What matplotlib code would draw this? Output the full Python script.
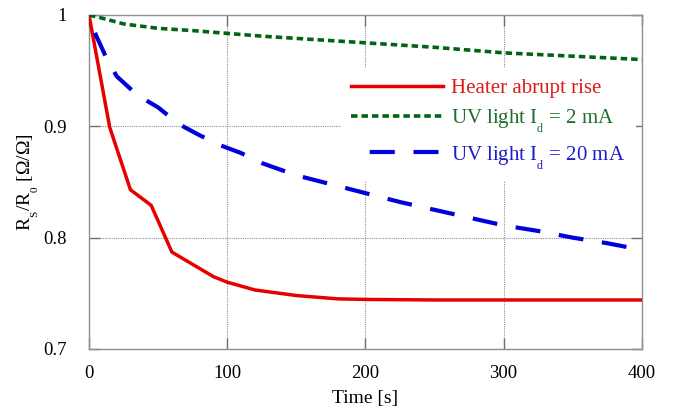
import matplotlib
matplotlib.use("Agg")
import matplotlib.pyplot as plt

plt.rcParams['font.family'] = ['Liberation Serif', 'DejaVu Serif']
plt.rcParams['mathtext.fontset'] = 'custom'
plt.rcParams['mathtext.rm'] = 'Liberation Serif'

try:
    import matplotlib._mathtext as _mt
    _mt.SHRINK_FACTOR = 0.58
    _mt.FontConstantsBase.sub1 = 0.75
    _mt.FontConstantsBase.sub2 = 0.9
except Exception:
    pass

# Heater abrupt rise
t_heater = [0, 15, 30, 45, 60, 75, 90, 100, 120, 150, 180, 200, 250, 300, 400]
r_heater = [1.0, 0.899, 0.843, 0.829, 0.787, 0.776, 0.765, 0.760, 0.753, 0.748, 0.745, 0.7445, 0.744, 0.744, 0.744]

# UV light Id = 2 mA
t_uv2 = [0, 10, 25, 50, 75, 100, 125, 150, 200, 250, 300, 350, 400]
r_uv2 = [1.0, 0.997, 0.992, 0.988, 0.986, 0.9835, 0.981, 0.979, 0.975, 0.971, 0.966, 0.963, 0.960]

# UV light Id = 20 mA
t_uv20 = [0, 5, 12, 20, 35, 50, 65, 80, 95, 110, 125, 150, 175, 200, 225, 250, 275, 300, 325, 350, 375, 400]
r_uv20 = [1.0, 0.982, 0.963, 0.945, 0.928, 0.917, 0.902, 0.892, 0.883, 0.876, 0.867, 0.856, 0.848, 0.840, 0.832, 0.825, 0.818, 0.811, 0.806, 0.800, 0.795, 0.789]

labels = ['Heater abrupt rise',
          r'UV light I$_\mathregular{d}$ = 2 mA',
          r'UV light I$_\mathregular{d}$ = 20 mA']
colors = ['#e60000', '#006414', '#0000dc']
text_colors = ['#e01818', '#1e6e2c', '#1e1ec8']

fig = plt.figure(figsize=(6.82, 4.12), dpi=100)
ax = fig.add_axes([0.1305, 0.153, 0.8105, 0.8106])

ax.plot(t_heater, r_heater, color=colors[0], lw=2.5, label=labels[0], zorder=3)
ax.plot(t_uv2, r_uv2, color=colors[1], lw=2.6, linestyle=(0, (1.8, 1.1)), label=labels[1], zorder=3)
ax.plot(t_uv20, r_uv20, color=colors[2], lw=3.0, linestyle=(6, (6, 4.5)), label=labels[2], zorder=3)

ax.set_xlim(0, 400)
ax.set_ylim(0.7, 1.0)
ax.set_xticks([0, 100, 200, 300, 400])
ax.set_yticks([0.7, 0.8, 0.9, 1.0])
ax.set_yticklabels(['0.7', '0.8', '0.9', '1'])
ax.grid(True, color='#909090', linestyle=(0, (1, 1)), linewidth=0.8, zorder=0)
ax.tick_params(direction='in', length=8, width=1, color='#707070', labelsize=13.5,
               top=True, right=True)
ax.tick_params(axis='x', pad=11.5)
ax.tick_params(axis='y', pad=16)
for s in ax.spines.values():
    s.set_color('#909090')
    s.set_linewidth(1.0)

ax.set_xlabel('Time [s]', fontsize=14, labelpad=6)
ax.set_ylabel(r'R$_\mathregular{S}$/R$_\mathregular{0}$ [Ω/Ω]', fontsize=14, labelpad=2)

leg = ax.legend(loc='upper right', bbox_to_anchor=(1.0, 0.86), fontsize=15,
                handlelength=4.4, handletextpad=0.4, labelspacing=0.45,
                frameon=True, fancybox=False, borderpad=0.5, borderaxespad=0.3)
leg.get_frame().set_edgecolor('none')
leg.get_frame().set_facecolor('white')
leg.get_frame().set_alpha(1)
for txt, c in zip(leg.get_texts(), text_colors):
    txt.set_color(c)

fig.savefig('out.png', dpi=100)
